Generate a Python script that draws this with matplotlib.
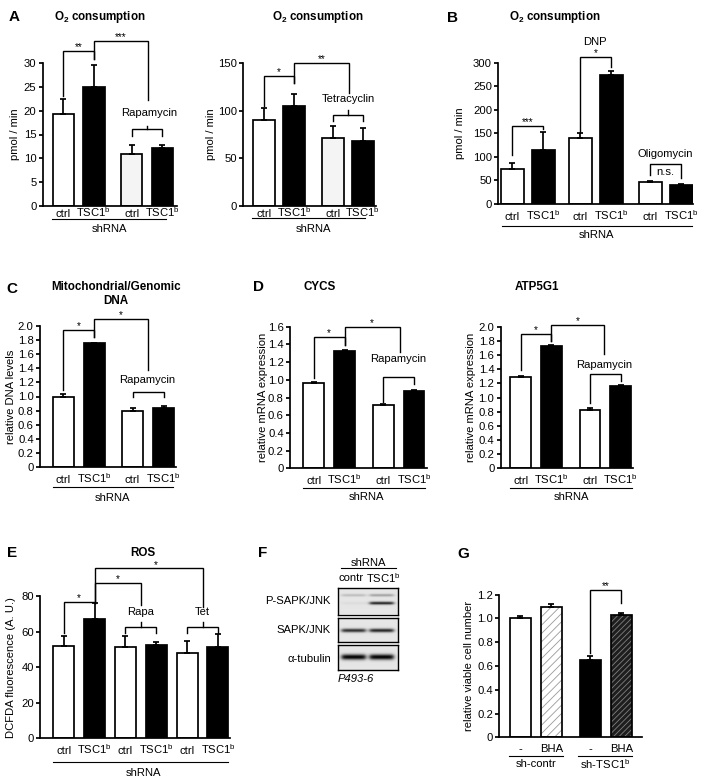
import numpy as np
import matplotlib
matplotlib.use("Agg")
import matplotlib.pyplot as plt
from matplotlib.lines import Line2D

plt.rcParams['font.family'] = ['Liberation Sans', 'DejaVu Sans']
plt.rcParams['mathtext.fontset'] = 'custom'
plt.rcParams['mathtext.rm'] = 'Liberation Sans'
plt.rcParams['mathtext.it'] = 'Liberation Sans:italic'
plt.rcParams['mathtext.bf'] = 'Liberation Sans:bold'
plt.rcParams['hatch.linewidth'] = 0.6

TSC = r'TSC1$^{\mathrm{b}}$'

# ---------------- data ----------------
a1_labels = ['ctrl', TSC, 'ctrl', TSC]
a1_mean = [19.2, 24.9, 10.9, 12.1]
a1_err = [3.3, 4.6, 1.9, 0.7]

a2_labels = ['ctrl', TSC, 'ctrl', TSC]
a2_mean = [90, 105, 72, 68]
a2_err = [13, 13, 12, 14]

b_labels = ['ctrl', TSC, 'ctrl', TSC, 'ctrl', TSC]
b_mean = [74, 114, 141, 274, 47, 41]
b_err = [13, 38, 10, 9, 2, 0.5]

c_labels = ['ctrl', TSC, 'ctrl', TSC]
c_mean = [1.00, 1.75, 0.80, 0.84]
c_err = [0.03, 0.005, 0.04, 0.03]

cycs_labels = ['ctrl', TSC, 'ctrl', TSC]
cycs_mean = [0.96, 1.32, 0.71, 0.87]
cycs_err = [0.02, 0.02, 0.015, 0.02]

atp_labels = ['ctrl', TSC, 'ctrl', TSC]
atp_mean = [1.29, 1.73, 0.83, 1.16]
atp_err = [0.01, 0.015, 0.015, 0.02]

ros_labels = ['ctrl', TSC, 'ctrl', TSC, 'ctrl', TSC]
ros_mean = [52, 67, 51.5, 52.5, 48, 51.5]
ros_err = [5.7, 8.8, 5.8, 1.5, 6.6, 7.1]

g_labels = ['-', 'BHA', '-', 'BHA']
g_groups = ['sh-contr', 'sh-' + TSC]
g_mean = [1.00, 1.093, 0.65, 1.026]
g_err = [0.02, 0.03, 0.03, 0.023]

blot_rows = ['P-SAPK/JNK', 'SAPK/JNK', 'α-tubulin']
blot_lanes = ['contr', TSC]
# (relative band position from top, band thickness, intensity per lane)
blot_bands = [
    [(0.30, 0.07, [0.18, 0.30]), (0.60, 0.08, [0.04, 0.85])],
    [(0.52, 0.11, [0.80, 0.85])],
    [(0.50, 0.15, [1.00, 1.00])],
]

# ---------------- layout helpers ----------------
W, H = 709, 782
FS = 8.1
TFS = 8.4
LFS = 11
LW = 1.25
fig = plt.figure(figsize=(W / 100, H / 100), dpi=100)


def add_ax(l, t, r, b):
    return fig.add_axes([l / W, 1 - b / H, (r - l) / W, (b - t) / H])


def ftext(x, y, s, **kw):
    kw.setdefault('ha', 'center')
    kw.setdefault('va', 'center')
    kw.setdefault('fontsize', FS)
    return fig.text(x / W, 1 - y / H, s, **kw)


def fline(x0, x1, y, lw=0.8):
    fig.add_artist(Line2D([x0 / W, x1 / W], [1 - y / H, 1 - y / H],
                          transform=fig.transFigure, color='k', lw=lw))


def bar_panel(box, pos, mean, err, colors, xlabels, xlim, ylim, yticks, dec,
              ylabel, ylab_x, width, lab_off, hatches=None, hcolors=None):
    l, t, r, b = box
    ax = add_ax(l, t, r, b)
    for i, (p, m) in enumerate(zip(pos, mean)):
        if hatches and hatches[i]:
            ax.bar(p, m, width, color=colors[i], edgecolor=hcolors[i], linewidth=0,
                   hatch=hatches[i], zorder=2)
            ax.bar(p, m, width, color='none', edgecolor='k', linewidth=LW, zorder=2.1)
        else:
            ax.bar(p, m, width, color=colors[i], edgecolor='k', linewidth=LW, zorder=2)
    ax.errorbar(pos, mean, yerr=[np.zeros(len(err)), err], fmt='none', ecolor='k',
                elinewidth=LW, capsize=2.5, capthick=LW, zorder=3)
    ax.set_xlim(*xlim)
    ax.set_ylim(*ylim)
    ax.set_yticks(yticks, ['0' if v == 0 else f'{v:.{dec}f}' for v in yticks])
    ax.set_xticks(pos, xlabels)
    ax.tick_params(axis='x', length=0, pad=lab_off * 0.72, labelsize=FS)
    for lab in ax.get_xticklabels():
        lab.set_va('baseline')
    ax.tick_params(axis='y', length=3, width=LW, pad=1.5, labelsize=FS)
    for s in ['top', 'right']:
        ax.spines[s].set_visible(False)
    for s in ['left', 'bottom']:
        ax.spines[s].set_linewidth(LW)
    ax.set_ylabel(ylabel, fontsize=FS, va='center')
    ax.yaxis.set_label_coords((ylab_x - l) / (r - l), 0.5)
    ax.patch.set_visible(False)
    return ax


def cmp_bracket(ax, x0, x1, y, e0, e1, label=None, lx=None, fs=7.2):
    ax.plot([x0, x0, x1, x1], [e0, y, y, e1], color='k', lw=1.0, clip_on=False,
            solid_joinstyle='miter')
    if label:
        ax.annotate(label, ((x0 + x1) / 2 if lx is None else lx, y), xytext=(0, 0.6),
                    textcoords='offset points', ha='center', va='baseline',
                    fontsize=fs, annotation_clip=False)


def grp_bracket(ax, x0, x1, y, e, top=None, label=None, ly=None, lx=None):
    ax.plot([x0, x0, x1, x1], [e, y, y, e], color='k', lw=1.0, clip_on=False,
            solid_joinstyle='miter')
    xm = (x0 + x1) / 2
    if top is not None:
        ax.plot([xm, xm], [y, top], color='k', lw=1.0, clip_on=False)
    if label:
        ax.text(xm if lx is None else lx, ly, label, ha='center', va='center',
                fontsize=FS, clip_on=False)


WB = ['white', 'black', 'white', 'black']
WBL = ['white', 'black', '#f4f4f4', 'black']

# ---------------- Panel A (left) ----------------
ax = bar_panel((42.7, 63, 176.7, 206), [0, 1, 2.23, 3.23], a1_mean, a1_err, WBL,
               a1_labels, (-0.67, 3.70), (0, 30), [0, 5, 10, 15, 20, 25, 30], 0,
               'pmol / min', 14.5, 0.70, 11)
cmp_bracket(ax, 0, 1, 32.6, 23.0, 30.8, '**')
cmp_bracket(ax, 1, 2.75, 34.6, 30.8, 22.3, '***')
grp_bracket(ax, 2.23, 3.23, 16.1, 14.7, top=16.8, label='Rapamycin', ly=19.5, lx=2.8)
fline(52, 166, 219.3)
ftext(109, 228.5, 'shRNA')
ftext(99.7, 17, r'O$_\mathbf{2}$ consumption', fontweight='bold', fontsize=TFS)
ftext(14, 17, 'A', fontweight='bold', fontsize=LFS)

# ---------------- Panel A (right) ----------------
ax = bar_panel((243.3, 63.3, 376, 206), [0, 1, 2.28, 3.28], a2_mean, a2_err, WBL,
               a2_labels, (-0.69, 3.72), (0, 150), [0, 50, 100, 150], 0,
               'pmol / min', 211, 0.72, 11)
cmp_bracket(ax, 0, 1, 136.7, 105.2, 129, '*')
cmp_bracket(ax, 1, 2.82, 150, 129, 118.5, '**')
grp_bracket(ax, 2.28, 3.28, 95.7, 89.7, top=100.9, label='Tetracyclin', ly=112.5, lx=2.8)
fline(251.7, 365, 218.3)
ftext(313, 228.5, 'shRNA')
ftext(317.5, 17, r'O$_\mathbf{2}$ consumption', fontweight='bold', fontsize=TFS)

# ---------------- Panel B ----------------
ax = bar_panel((498.3, 62.7, 693.3, 204), [0, 1, 2.2, 3.2, 4.45, 5.45], b_mean, b_err,
               WB + WB[:2], b_labels, (-0.45, 5.84), (0, 300),
               [0, 50, 100, 150, 200, 250, 300], 0, 'pmol / min', 460, 0.75, 16)
cmp_bracket(ax, 0, 1, 165.6, 104, 160, '***')
cmp_bracket(ax, 2.2, 3.2, 312.8, 153.6, 291.6, '*')
ax.text(2.68, 344.7, 'DNP', ha='center', va='center', fontsize=FS, clip_on=False)
ax.plot([4.45, 4.45, 5.45, 5.45], [61.6, 84, 84, 54.5], color='k', lw=1.0, clip_on=False)
ax.text(4.95, 69, 'n.s.', ha='center', va='center', fontsize=FS)
ax.text(4.92, 106, 'Oligomycin', ha='center', va='center', fontsize=FS)
fline(501.7, 691.7, 226.3)
ftext(596.7, 235.5, 'shRNA')
ftext(554.5, 17, r'O$_\mathbf{2}$ consumption', fontweight='bold', fontsize=TFS)
ftext(453, 18, 'B', fontweight='bold', fontsize=LFS)

# ---------------- Panel C ----------------
ax = bar_panel((40, 325.7, 175.7, 467.3), [0, 1, 2.23, 3.23], c_mean, c_err, WB,
               c_labels, (-0.75, 3.62), (0, 2.0), np.round(np.arange(0, 2.01, 0.2), 1), 1,
               'relative DNA levels', 11, 0.69, 15.5)
cmp_bracket(ax, 0, 1, 1.94, 1.09, 1.835, '*')
cmp_bracket(ax, 1, 2.72, 2.10, 1.835, 1.38, '*')
grp_bracket(ax, 2.23, 3.23, 1.07, 1.0, label='Rapamycin', ly=1.24, lx=2.69)
fline(53, 173, 487.3)
ftext(112, 498.5, 'shRNA')
ftext(116, 287, 'Mitochondrial/Genomic', fontweight='bold', fontsize=TFS)
ftext(116, 300.5, 'DNA', fontweight='bold', fontsize=TFS)
ftext(12, 289, 'C', fontweight='bold', fontsize=LFS)

# ---------------- Panel D (CYCS) ----------------
ax = bar_panel((290, 326.7, 426.7, 468.3), [0, 1, 2.25, 3.25], cycs_mean, cycs_err, WB,
               cycs_labels, (-0.77, 3.66), (0, 1.6), np.round(np.arange(0, 1.61, 0.2), 1), 1,
               'relative mRNA expression', 263, 0.67, 15.5)
cmp_bracket(ax, 0, 1, 1.48, 1.017, 1.393, '*')
cmp_bracket(ax, 1, 2.78, 1.60, 1.393, 1.318, '*')
ax.text(2.75, 1.231, 'Rapamycin', ha='center', va='center', fontsize=FS)
cmp_bracket(ax, 2.25, 3.25, 1.035, 0.753, 0.949)
fline(302.7, 425, 488.3)
ftext(366.7, 497.5, 'shRNA')
ftext(320, 287, 'CYCS', fontweight='bold', fontsize=TFS)
ftext(258, 287, 'D', fontweight='bold', fontsize=LFS)

# ---------------- Panel D (ATP5G1) ----------------
ax = bar_panel((500.7, 326.7, 633, 468.3), [0, 1, 2.25, 3.25], atp_mean, atp_err, WB,
               atp_labels, (-0.65, 3.65), (0, 2.0), np.round(np.arange(0, 2.01, 0.2), 1), 1,
               'relative mRNA expression', 471, 0.67, 15.5)
cmp_bracket(ax, 0, 1, 1.892, 1.388, 1.80, '*')
cmp_bracket(ax, 1, 2.71, 2.024, 1.80, 1.614, '*')
ax.text(2.71, 1.459, 'Rapamycin', ha='center', va='center', fontsize=FS)
cmp_bracket(ax, 2.25, 3.25, 1.332, 0.918, 1.238)
fline(510, 631.7, 488.3)
ftext(571.7, 497.5, 'shRNA')
ftext(536.7, 287, 'ATP5G1', fontweight='bold', fontsize=TFS)

# ---------------- Panel E ----------------
ax = bar_panel((40, 596, 230, 738.3), [0, 1, 2, 3, 4, 5], ros_mean, ros_err, WB + WB[:2],
               ros_labels, (-0.77, 5.39), (0, 80), [0, 20, 40, 60, 80], 0,
               'DCFDA fluorescence (A. U.)', 11.5, 0.68, 16)
cmp_bracket(ax, 0, 1, 76.8, 59, 76.0, '*')
cmp_bracket(ax, 1, 2.5, 87.1, 76.0, 74.9, '*')
cmp_bracket(ax, 1, 4.52, 95.5, 76.0, 74.0, '*', lx=2.99)
grp_bracket(ax, 2, 3, 62.7, 59.4, top=65.5, label='Rapa', ly=70.8)
grp_bracket(ax, 4, 5, 62.7, 59.4, top=65.5, label='Tet', ly=70.8)
fline(53.3, 228.3, 761.7)
ftext(143.3, 773.5, 'shRNA')
ftext(143.3, 552.5, 'ROS', fontweight='bold', fontsize=TFS)
ftext(12, 553, 'E', fontweight='bold', fontsize=LFS)

# ---------------- Panel F (western blot) ----------------
ftext(263, 553, 'F', fontweight='bold', fontsize=LFS)
ftext(368, 562.5, 'shRNA')
fline(341, 396, 567.5)
ftext(351, 578.3, blot_lanes[0])
ftext(383.3, 578.3, blot_lanes[1])
boxes = [(338, 588, 398, 614.5), (338, 617.5, 398, 641.5), (338, 644.5, 398, 670)]
label_y = [600.7, 630, 658.5]
nx, ny = 120, 50
xs = np.linspace(0, 1, nx)
ys = np.linspace(0, 1, ny)
lane_cx = [0.26, 0.73]
for row, bands, (l, t, r, b), ly in zip(blot_rows, blot_bands, boxes, label_y):
    bax = add_ax(l, t, r, b)
    img = np.full((ny, nx), 0.10)
    for (yc, th, inten) in bands:
        vprof = np.exp(-0.5 * ((ys - yc) / (th / 2)) ** 2)
        for cx, a in zip(lane_cx, inten):
            hprof = 1 / (1 + np.exp((np.abs(xs - cx) - 0.2) / 0.02))
            img += a * 0.9 * np.outer(vprof, hprof)
    bax.imshow(np.clip(img, 0, 1), cmap='gray_r', vmin=0, vmax=1, aspect='auto',
               interpolation='bilinear', extent=(0, 1, 1, 0))
    bax.set_xticks([])
    bax.set_yticks([])
    for s in bax.spines.values():
        s.set_linewidth(1.0)
    ftext(331, ly, row, ha='right')
ftext(338, 678.5, 'P493-6', ha='left', style='italic')

# ---------------- Panel G ----------------
ax = bar_panel((499.3, 594.7, 641.7, 737.3), [0, 1, 2.25, 3.25], g_mean, g_err,
               ['white', 'white', 'black', '#1e1e1e'], g_labels, (-0.68, 3.91), (0, 1.2),
               np.round(np.arange(0, 1.21, 0.2), 1), 1, 'relative viable cell number', 469,
               0.67, 14.5, hatches=[None, '////', None, '//////'],
               hcolors=[None, '#9a9a9a', None, '#808080'])
cmp_bracket(ax, 2.25, 3.25, 1.239, 0.706, 1.133, '**')
fline(509.3, 562.7, 756)
fline(578.3, 632.3, 756)
ftext(536, 764, g_groups[0])
ftext(605, 764, g_groups[1])
ftext(463, 554, 'G', fontweight='bold', fontsize=LFS)

fig.savefig('out.png', dpi=100)
